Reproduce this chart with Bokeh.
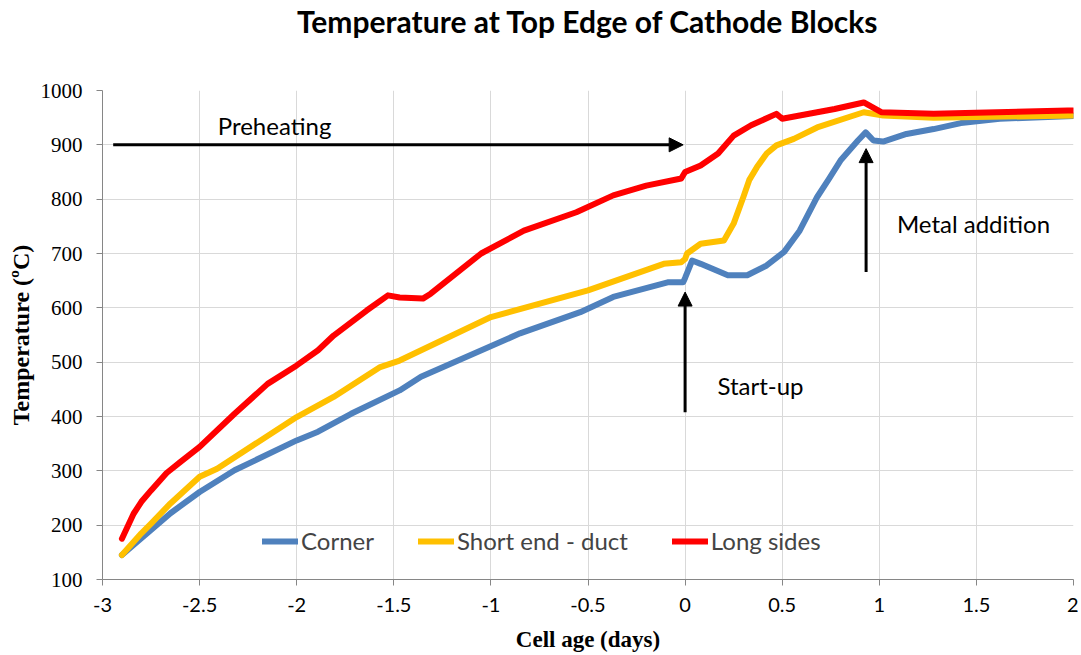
from bokeh.plotting import figure
from bokeh.models import (Range1d, FixedTicker, NumeralTickFormatter, Legend, LegendItem,
                          Label, Arrow, NormalHead, Title)
from bokeh.embed import file_html
from bokeh.resources import INLINE

# ---------------- data ----------------
corner_x = [-2.90, -2.80, -2.75, -2.65, -2.50, -2.32, -2.00, -1.89, -1.72, -1.47, -1.36, -0.85,
            -0.54, -0.37, -0.09, -0.01, 0.0, 0.036, 0.08, 0.22, 0.32, 0.42, 0.51, 0.59, 0.68,
            0.74, 0.80, 0.89, 0.93, 0.97, 1.02, 1.14, 1.28, 1.42, 1.62, 2.0]
corner_y = [145, 176, 191, 222, 261, 301, 356, 372, 405, 448, 473, 553,
            592, 620, 647, 647, 655, 687, 681, 660, 660, 678, 703, 742, 804,
            837, 871, 908, 923, 908, 906, 920, 929, 940, 948, 953]

short_x = [-2.90, -2.80, -2.75, -2.65, -2.50, -2.41, -2.00, -1.81, -1.57, -1.47, -1.00, -0.50,
           -0.11, -0.02, 0.0, 0.01, 0.08, 0.20, 0.25, 0.30, 0.33, 0.37, 0.42, 0.47, 0.56,
           0.68, 0.92, 1.02, 1.28, 2.0]
short_y = [145, 185, 203, 240, 289, 304, 399, 436, 491, 503, 583, 632,
           681, 684, 690, 700, 718, 724, 755, 804, 835, 859, 884, 899, 911,
           932, 960, 954, 950, 954]

long_x = [-2.90, -2.84, -2.80, -2.75, -2.67, -2.60, -2.50, -2.32, -2.15, -2.00, -1.89, -1.81,
          -1.64, -1.53, -1.47, -1.35, -1.31, -1.05, -0.83, -0.56, -0.37, -0.20, -0.02, 0.0,
          0.08, 0.17, 0.25, 0.34, 0.47, 0.50, 0.77, 0.92, 1.01, 1.28, 1.97, 2.0]
long_y = [175, 221, 243, 264, 296, 316, 344, 405, 460, 494, 522, 549,
          595, 623, 619, 617, 626, 700, 742, 776, 807, 825, 838, 850,
          862, 884, 917, 936, 957, 948, 966, 978, 960, 957, 963, 963]

series_names = ["Corner", "Short end - duct", "Long sides"]
series_colors = ["#4F81BD", "#FFC000", "#FF0000"]

x_ticks = [-3, -2.5, -2, -1.5, -1, -0.5, 0, 0.5, 1, 1.5, 2]
y_ticks = [100, 200, 300, 400, 500, 600, 700, 800, 900, 1000]

title_text = "Temperature at Top Edge of Cathode Blocks"

# annotations (data coords)
preheat_arrow = (-2.945, 900, -0.01, 900)
startup_arrow = (0.0, 408, 0.0, 629)
metal_arrow = (0.932, 666, 0.932, 893)

# ---------------- figure ----------------
p = figure(width=1078, height=654, output_backend="svg", toolbar_location=None,
           x_range=Range1d(-3, 2), y_range=Range1d(100, 1000),
           min_border_left=102, min_border_right=5, min_border_top=90, min_border_bottom=75,
           title=title_text)
p.title.align = "center"
p.title.offset = -41
p.title.standoff = 0
p.title.text_font = "Lato"
p.title.text_font_size = "30px"
p.title.text_font_style = "bold"
p.title.text_color = "#000000"
p.outline_line_color = None

# blank spacer between the title and the plotting frame
p.add_layout(Title(text=" ", text_font_size="20px", standoff=28), "above")

p.xaxis.ticker = FixedTicker(ticks=x_ticks)
p.yaxis.ticker = FixedTicker(ticks=y_ticks)
p.xaxis.formatter = NumeralTickFormatter(format="0.[0]")
p.xgrid.ticker = FixedTicker(ticks=x_ticks)
p.ygrid.ticker = FixedTicker(ticks=y_ticks)
for g in (p.xgrid, p.ygrid):
    g.grid_line_color = "#D9D9D9"
    g.grid_line_width = 1

for ax in (p.xaxis, p.yaxis):
    ax.axis_line_color = "#868686"
    ax.major_tick_line_color = "#868686"
    ax.minor_tick_line_color = None
    ax.major_tick_in = 0
    ax.major_tick_out = 6
    ax.major_label_text_color = "#000000"
    ax.axis_label_text_color = "#000000"

p.xaxis.major_label_text_font = "Lato"
p.xaxis.major_label_text_font_size = "20px"
p.xaxis.axis_label = "Cell age (days)"
p.xaxis.axis_label_text_font = "Liberation Serif"
p.xaxis.axis_label_text_font_style = "bold"
p.xaxis.axis_label_text_font_size = "23px"
p.xaxis.major_label_standoff = 12
p.xaxis.axis_label_standoff = 12

p.yaxis.major_label_text_font = "Liberation Serif"
p.yaxis.major_label_text_font_size = "21px"
p.yaxis.axis_label = "Temperature (ºC)"
p.yaxis.axis_label_text_font = "Liberation Serif"
p.yaxis.axis_label_text_font_style = "bold"
p.yaxis.axis_label_text_font_size = "24px"
p.yaxis.major_label_standoff = 14
p.yaxis.axis_label_standoff = 4

renderers = []
for xs, ys, c in zip([corner_x, short_x, long_x], [corner_y, short_y, long_y], series_colors):
    r = p.line(xs, ys, line_color=c, line_width=6, line_join="round", line_cap="round")
    renderers.append(r)

legend = Legend(items=[LegendItem(label=n, renderers=[r]) for n, r in zip(series_names, renderers)],
                orientation="horizontal", location=(160, 24))
legend.background_fill_alpha = 0
legend.border_line_color = None
legend.label_text_font = "Lato"
legend.label_text_font_size = "24px"
legend.glyph_width = 36
legend.glyph_height = 24
legend.label_height = 24
legend.label_standoff = 3
legend.spacing = 44
legend.padding = 0
legend.margin = 0
p.add_layout(legend)

for (x0, y0, x1, y1) in (preheat_arrow, startup_arrow, metal_arrow):
    p.add_layout(Arrow(x_start=x0, y_start=y0, x_end=x1, y_end=y1, line_width=3,
                       line_color="black",
                       end=NormalHead(size=14, fill_color="black", line_color="black")))

for txt, x, y in (("Preheating", -2.114, 935), ("Start-up", 0.388, 457), ("Metal addition", 1.485, 755)):
    p.add_layout(Label(x=x, y=y, text=txt, text_font="Lato", text_font_size="24px",
                       text_align="center", text_baseline="middle", text_color="#000000"))

open("out.html", "w").write(file_html(p, INLINE))
